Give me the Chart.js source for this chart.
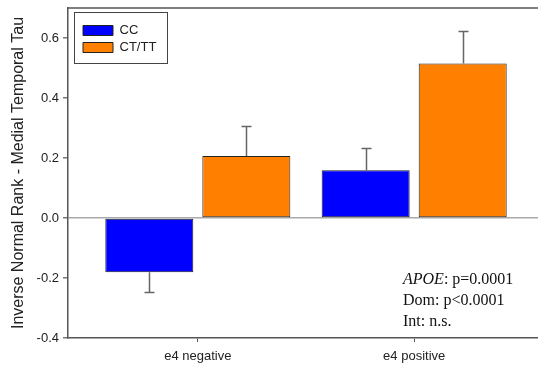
<!DOCTYPE html>
<html>
<head>
<meta charset="utf-8">
<script src="https://cdn.jsdelivr.net/npm/chart.js@4.4.1/dist/chart.umd.min.js"></script>
<style>
  html, body { margin: 0; padding: 0; background: #fff; overflow: hidden; }
  #wrap { width: 544px; height: 367px; }
</style>
</head>
<body>
<div id="wrap"><canvas id="chart" width="544" height="367"></canvas></div>
<script>
// 범주와 값
const categories = ['e4 negative', 'e4 positive'];
const seriesNames = ['CC', 'CT/TT'];
const ccValues = [-0.181, 0.159];
const ccErrors = [0.066, 0.076];
const ctValues = [0.207, 0.515];
const ctErrors = [0.101, 0.110];
const yTicks = [-0.4, -0.2, 0.0, 0.2, 0.4, 0.6];
const notes = ['Dom: p<0.0001', 'Int: n.s.'];

const axisFont = "'Liberation Sans', Arial, sans-serif";
const serifFont = "'Liberation Serif', 'Times New Roman', serif";

// 오차 막대 (바깥쪽 방향만)
const errorBars = {
    id: 'errorBars',
    afterDatasetsDraw(chart) {
        const ctx = chart.ctx;
        const yScale = chart.scales.y;
        chart.data.datasets.forEach((ds, i) => {
            chart.getDatasetMeta(i).data.forEach((bar, j) => {
                const v = ds.data[j].y;
                const e = ds.errors[j];
                const end = v < 0 ? v - e : v + e;
                const x = Math.round(bar.x) + 0.5;
                const y0 = yScale.getPixelForValue(v);
                const y1 = Math.round(yScale.getPixelForValue(end)) + 0.5;
                ctx.save();
                ctx.strokeStyle = '#666';
                ctx.lineWidth = 1.5;
                ctx.beginPath();
                ctx.moveTo(x, y0);
                ctx.lineTo(x, y1);
                ctx.moveTo(x - 5, y1);
                ctx.lineTo(x + 5, y1);
                ctx.stroke();
                ctx.restore();
            });
        });
    }
};

// 범례 위치 조정 + 테두리, 위쪽 프레임, 통계 주석
const extras = {
    id: 'extras',
    afterLayout(chart) {
        const lg = chart.legend;
        lg.left = chart.chartArea.left + 11;
        lg.top = chart.chartArea.top + 12;
    },
    afterDraw(chart) {
        const ctx = chart.ctx;
        const area = chart.chartArea;
        const lg = chart.legend;
        ctx.save();
        // 범례 테두리
        ctx.strokeStyle = '#444';
        ctx.lineWidth = 1;
        const bx = Math.round(lg.left - 5) + 0.5;
        const by = Math.round(lg.top - 8) + 0.5;
        ctx.strokeRect(bx, by, 93, 51);
        // 위쪽 프레임 선
        ctx.strokeStyle = '#555';
        ctx.lineWidth = 1.5;
        ctx.beginPath();
        ctx.moveTo(area.left, area.top);
        ctx.lineTo(area.right, area.top);
        ctx.stroke();
        // 주석
        ctx.fillStyle = '#111';
        ctx.textBaseline = 'alphabetic';
        ctx.textAlign = 'left';
        const tx = area.left + 335;
        ctx.font = 'italic 16px ' + serifFont;
        ctx.fillText('APOE', tx, area.bottom - 54);
        const w = ctx.measureText('APOE').width;
        ctx.font = '16px ' + serifFont;
        ctx.fillText(': p=0.0001', tx + w, area.bottom - 54);
        ctx.fillText(notes[0], tx, area.bottom - 33);
        ctx.fillText(notes[1], tx, area.bottom - 12);
        ctx.restore();
    }
};

const xy = (vals) => vals.map((v, i) => ({ x: i, y: v }));

const chart = new Chart(document.getElementById('chart'), {
    type: 'bar',
    data: {
        datasets: [{
            label: seriesNames[0],
            data: xy(ccValues),
            errors: ccErrors,
            backgroundColor: '#0000ff',
            borderColor: '#222',
            borderWidth: 1,
            borderSkipped: false
        }, {
            label: seriesNames[1],
            data: xy(ctValues),
            errors: ctErrors,
            backgroundColor: '#ff8000',
            borderColor: '#222',
            borderWidth: 1,
            borderSkipped: false
        }]
    },
    options: {
        responsive: false,
        animation: false,
        devicePixelRatio: 1,
        categoryPercentage: 0.897,
        barPercentage: 0.907,
        layout: { padding: { top: 8, left: 0, right: 0, bottom: 0 } },
        plugins: {
            legend: {
                position: 'chartArea',
                align: 'start',
                labels: {
                    boxWidth: 30,
                    boxHeight: 10,
                    padding: 4,
                    color: '#222',
                    font: { family: axisFont, size: 13 }
                }
            },
            tooltip: { enabled: false }
        },
        scales: {
            x: {
                type: 'linear',
                offset: false,
                min: -0.6,
                max: 1.6,
                afterBuildTicks: (s) => { s.ticks = categories.map((c, i) => ({ value: i })); },
                afterFit: (s) => { s.height = 29; },
                ticks: {
                    stepSize: 1,
                    includeBounds: false,
                    callback: (v) => categories[v],
                    color: '#222',
                    padding: 7,
                    maxRotation: 0,
                    font: { family: axisFont, size: 13 }
                },
                grid: { offset: false, drawOnChartArea: false, drawTicks: true, tickLength: 4, tickColor: '#555' },
                border: { color: '#555', width: 1.5 }
            },
            y: {
                min: -0.4,
                max: 0.7,
                afterBuildTicks: (s) => { s.ticks = yTicks.map(v => ({ value: v })); },
                afterFit: (s) => { s.width = 68; s.paddingTop = 0; s.paddingBottom = 0; },
                ticks: {
                    stepSize: 0.2,
                    includeBounds: false,
                    callback: (v) => (Math.abs(v) < 1e-9 ? 0 : v).toFixed(1),
                    color: '#222',
                    padding: 4,
                    font: { family: axisFont, size: 13 }
                },
                grid: {
                    color: (c) => (c.tick && Math.abs(c.tick.value) < 1e-9) ? '#aaa' : 'rgba(0,0,0,0)',
                    lineWidth: 1.5,
                    tickLength: 5,
                    tickColor: '#777'
                },
                border: { color: '#555', width: 1.5 },
                title: {
                    display: true,
                    text: 'Inverse Normal Rank - Medial Temporal Tau',
                    color: '#222',
                    padding: { top: 9, bottom: 0 },
                    font: { family: axisFont, size: 16 }
                }
            }
        }
    },
    plugins: [errorBars, extras]
});
</script>
</body>
</html>
